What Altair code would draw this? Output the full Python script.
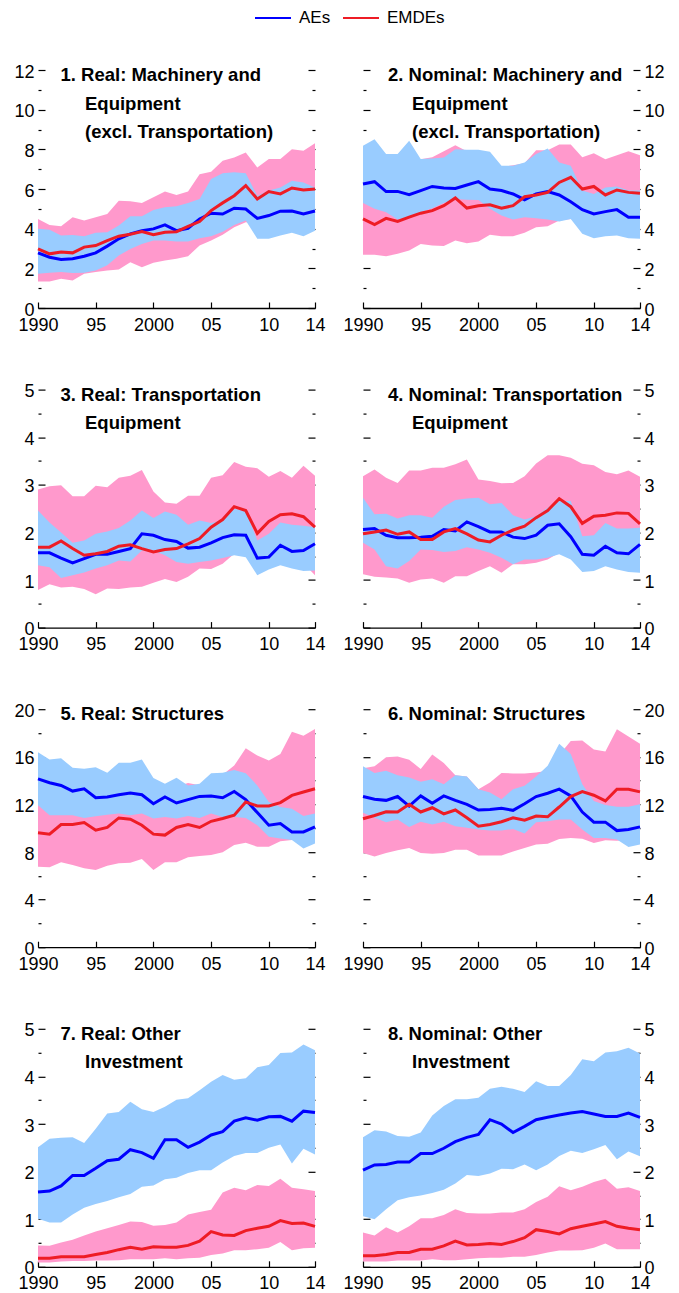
import altair as alt
import pandas as pd

YEARS = list(range(1990, 2015))
X_TICKS = [1990, 1995, 2000, 2005, 2010, 2014]
X_LABELS = ["1990", "95", "2000", "05", "10", "14"]
SERIES = ["AEs", "EMDEs"]

# Panel 1: Real, Machinery and Equipment
P1_AE = [2.78, 2.56, 2.45, 2.48, 2.61, 2.78, 3.12, 3.49, 3.74, 3.90, 3.99, 4.19, 3.90, 4.02, 4.49, 4.78, 4.74, 5.03, 4.99, 4.52, 4.66, 4.88, 4.89, 4.74, 4.89]
P1_AE_LO = [1.73, 1.78, 1.81, 1.76, 1.78, 1.89, 2.15, 2.65, 2.98, 3.23, 3.40, 3.40, 3.35, 3.35, 3.52, 3.62, 3.85, 4.19, 4.41, 3.49, 3.49, 3.65, 3.79, 3.62, 3.90]
P1_AE_HI = [3.99, 3.95, 3.65, 3.68, 3.62, 3.79, 3.82, 4.16, 4.63, 4.63, 4.94, 5.08, 5.13, 5.30, 5.50, 6.50, 6.80, 6.84, 6.80, 5.66, 5.92, 6.08, 6.42, 6.33, 6.08]
P1_EM = [2.98, 2.73, 2.82, 2.78, 3.07, 3.15, 3.40, 3.62, 3.72, 3.85, 3.69, 3.82, 3.85, 4.11, 4.36, 4.91, 5.30, 5.66, 6.17, 5.50, 5.87, 5.75, 6.05, 5.95, 6.00]
P1_EM_LO = [1.34, 1.34, 1.47, 1.39, 1.73, 1.81, 1.89, 1.94, 2.31, 2.06, 2.28, 2.40, 2.48, 2.61, 3.15, 3.40, 3.69, 4.07, 4.32, 4.30, 4.40, 4.50, 4.60, 4.50, 4.60]
P1_EM_HI = [4.49, 4.19, 4.12, 4.58, 4.41, 4.58, 4.74, 5.41, 5.38, 5.30, 5.58, 5.87, 5.70, 5.87, 6.75, 6.87, 7.42, 7.59, 7.84, 7.09, 7.51, 7.51, 8.01, 7.93, 8.31]

# Panel 2: Nominal, Machinery and Equipment
P2_AE = [6.25, 6.37, 5.87, 5.88, 5.71, 5.92, 6.13, 6.05, 6.03, 6.20, 6.37, 6.00, 5.92, 5.75, 5.46, 5.75, 5.87, 5.70, 5.36, 4.96, 4.74, 4.86, 4.96, 4.58, 4.58]
P2_AE_LO = [5.30, 5.00, 4.83, 4.46, 4.58, 4.83, 5.03, 5.30, 5.50, 5.46, 5.45, 5.00, 4.66, 4.46, 4.58, 4.52, 4.46, 4.36, 4.49, 3.74, 3.52, 3.62, 3.65, 3.52, 3.49]
P2_AE_HI = [8.18, 8.51, 7.76, 7.76, 8.43, 7.51, 7.54, 7.59, 8.01, 7.98, 7.98, 7.88, 7.17, 7.17, 7.34, 7.76, 8.04, 7.34, 7.17, 5.92, 5.75, 6.08, 6.13, 5.92, 5.92]
P2_EM = [4.49, 4.21, 4.52, 4.37, 4.58, 4.78, 4.91, 5.16, 5.55, 5.04, 5.16, 5.20, 5.03, 5.16, 5.61, 5.70, 5.83, 6.33, 6.59, 6.00, 6.13, 5.70, 5.95, 5.83, 5.78]
P2_EM_LO = [2.68, 2.68, 2.61, 2.73, 2.90, 3.23, 3.15, 3.12, 3.40, 3.27, 3.35, 3.69, 3.62, 3.62, 3.79, 4.07, 4.12, 4.41, 4.49, 4.40, 4.30, 4.40, 4.50, 4.40, 4.40]
P2_EM_HI = [7.60, 7.40, 7.30, 7.40, 7.50, 7.50, 7.60, 7.90, 8.20, 7.90, 7.90, 7.80, 7.10, 7.20, 7.30, 7.95, 7.95, 8.25, 8.25, 7.60, 7.80, 7.50, 7.70, 7.90, 7.70]

# Panel 3: Real, Transportation Equipment
P3_AE = [1.57, 1.57, 1.46, 1.36, 1.45, 1.54, 1.54, 1.60, 1.66, 1.97, 1.94, 1.85, 1.81, 1.67, 1.69, 1.78, 1.89, 1.95, 1.94, 1.46, 1.48, 1.73, 1.60, 1.62, 1.76]
P3_AE_LO = [1.31, 1.27, 1.04, 1.10, 1.16, 1.24, 1.31, 1.41, 1.39, 1.62, 1.62, 1.52, 1.38, 1.34, 1.38, 1.41, 1.46, 1.52, 1.48, 1.10, 1.22, 1.31, 1.24, 1.19, 1.20]
P3_AE_HI = [2.46, 2.21, 2.00, 1.78, 1.83, 1.97, 2.02, 2.09, 2.25, 2.46, 2.30, 2.44, 2.37, 2.16, 2.25, 2.20, 2.25, 2.49, 2.46, 1.83, 1.97, 2.21, 2.16, 2.14, 2.11]
P3_EM = [1.69, 1.69, 1.82, 1.66, 1.52, 1.55, 1.60, 1.71, 1.74, 1.66, 1.59, 1.64, 1.66, 1.76, 1.87, 2.11, 2.27, 2.54, 2.46, 1.98, 2.23, 2.37, 2.39, 2.33, 2.11]
P3_EM_LO = [0.79, 0.91, 0.84, 0.86, 0.81, 0.70, 0.82, 0.81, 0.84, 0.86, 0.94, 1.02, 0.96, 1.07, 1.24, 1.23, 1.34, 1.55, 1.52, 1.50, 1.50, 1.50, 1.45, 1.35, 1.10]
P3_EM_HI = [2.90, 2.97, 2.99, 2.76, 2.76, 2.98, 2.95, 3.15, 3.19, 3.31, 2.86, 2.63, 2.60, 2.77, 2.77, 3.15, 3.20, 3.48, 3.38, 3.35, 3.17, 3.29, 3.15, 3.40, 3.19]

# Panel 4: Nominal, Transportation Equipment
P4_AE = [2.06, 2.08, 1.94, 1.89, 1.89, 1.90, 1.92, 2.06, 2.03, 2.22, 2.12, 2.01, 2.01, 1.90, 1.87, 1.94, 2.15, 2.18, 1.91, 1.54, 1.52, 1.71, 1.57, 1.55, 1.75]
P4_AE_LO = [1.78, 1.64, 1.29, 1.24, 1.40, 1.64, 1.63, 1.59, 1.61, 1.69, 1.64, 1.57, 1.47, 1.33, 1.43, 1.43, 1.47, 1.54, 1.43, 1.17, 1.19, 1.29, 1.22, 1.17, 1.15]
P4_AE_HI = [2.73, 2.38, 2.39, 2.29, 2.36, 2.36, 2.31, 2.54, 2.68, 2.71, 2.73, 2.59, 2.62, 2.36, 2.27, 2.34, 2.52, 2.66, 2.66, 1.92, 1.94, 2.20, 2.08, 2.08, 2.10]
P4_EM = [1.97, 2.01, 2.05, 1.96, 2.01, 1.85, 1.85, 2.01, 2.08, 1.97, 1.84, 1.80, 1.94, 2.05, 2.13, 2.31, 2.46, 2.71, 2.54, 2.19, 2.34, 2.36, 2.41, 2.40, 2.18]
P4_EM_LO = [1.12, 1.07, 1.05, 1.03, 0.94, 1.01, 1.03, 0.94, 1.08, 1.08, 1.19, 1.29, 1.15, 1.33, 1.33, 1.36, 1.43, 1.57, 1.55, 1.60, 1.60, 1.65, 1.60, 1.55, 1.50]
P4_EM_HI = [3.18, 3.32, 3.15, 3.04, 3.30, 3.30, 3.36, 3.36, 3.43, 3.53, 3.11, 3.08, 3.03, 3.04, 3.18, 3.45, 3.62, 3.62, 3.57, 3.44, 3.41, 3.27, 3.22, 3.30, 3.17]

# Panel 5: Real, Structures
P5_AE = [14.15, 13.82, 13.59, 13.12, 13.31, 12.56, 12.62, 12.81, 12.95, 12.81, 12.06, 12.62, 12.12, 12.40, 12.67, 12.70, 12.56, 13.09, 12.40, 11.31, 10.25, 10.39, 9.69, 9.69, 10.11]
P5_AE_LO = [11.92, 11.09, 11.09, 11.09, 10.86, 11.00, 11.14, 11.23, 11.09, 11.23, 10.81, 10.95, 10.81, 11.03, 10.86, 11.23, 10.95, 10.95, 10.86, 10.25, 9.28, 9.14, 9.00, 8.30, 8.72]
P5_AE_HI = [16.38, 15.77, 15.88, 15.07, 14.99, 15.13, 14.65, 15.49, 15.49, 15.77, 14.21, 13.73, 14.23, 13.59, 13.73, 14.62, 14.65, 14.90, 14.62, 13.59, 12.20, 11.78, 11.64, 11.03, 11.23]
P5_EM = [9.61, 9.50, 10.31, 10.31, 10.47, 9.83, 10.06, 10.86, 10.75, 10.25, 9.50, 9.42, 10.06, 10.31, 10.06, 10.58, 10.81, 11.09, 12.20, 11.87, 11.87, 12.15, 12.76, 13.04, 13.31]
P5_EM_LO = [6.77, 6.71, 7.13, 6.91, 6.63, 6.49, 6.85, 7.05, 7.10, 7.41, 6.49, 7.13, 7.13, 7.55, 7.66, 7.74, 7.97, 8.58, 8.77, 8.44, 8.44, 8.91, 9.00, 9.10, 9.10]
P5_EM_HI = [13.50, 13.40, 13.60, 13.50, 13.40, 13.60, 13.80, 13.90, 13.60, 13.40, 13.20, 13.20, 13.50, 13.80, 13.60, 14.00, 14.50, 15.26, 16.71, 16.10, 15.68, 16.24, 18.11, 17.77, 18.33]

# Panel 6: Nominal, Structures
P6_AE = [12.66, 12.43, 12.34, 12.66, 11.86, 12.71, 12.09, 12.71, 12.34, 12.01, 11.53, 11.58, 11.67, 11.50, 12.06, 12.66, 12.94, 13.28, 12.71, 11.36, 10.51, 10.51, 9.80, 9.89, 10.11]
P6_AE_LO = [11.30, 10.88, 10.51, 10.73, 10.11, 10.54, 10.31, 10.54, 10.17, 10.03, 9.89, 9.80, 9.80, 9.94, 9.55, 10.51, 10.59, 10.73, 10.73, 9.89, 9.18, 9.18, 9.04, 8.42, 8.62]
P6_AE_HI = [15.20, 14.63, 14.83, 14.46, 14.27, 13.90, 14.12, 13.70, 14.46, 14.35, 13.28, 12.99, 12.43, 13.28, 13.56, 14.35, 15.25, 17.09, 16.24, 13.70, 12.29, 11.95, 11.81, 11.81, 12.01]
P6_EM = [10.79, 11.07, 11.38, 11.36, 12.01, 11.36, 11.72, 11.21, 11.53, 10.88, 10.17, 10.31, 10.54, 10.88, 10.68, 11.02, 10.96, 11.78, 12.66, 13.08, 12.77, 12.29, 13.28, 13.28, 13.05]
P6_EM_LO = [7.91, 7.63, 7.91, 8.14, 8.33, 7.91, 7.85, 7.91, 8.19, 8.19, 7.71, 7.71, 7.71, 8.05, 8.33, 8.62, 8.70, 9.10, 9.18, 9.12, 8.76, 8.98, 8.95, 9.00, 9.00]
P6_EM_HI = [15.03, 15.20, 15.96, 16.02, 15.76, 14.97, 16.19, 15.48, 14.46, 14.35, 13.28, 13.84, 14.63, 14.60, 14.60, 14.69, 14.83, 16.16, 17.32, 17.37, 16.61, 16.44, 18.31, 17.71, 17.09]

# Panel 7: Real, Other Investment
P7_AE = [1.57, 1.59, 1.70, 1.92, 1.92, 2.07, 2.23, 2.26, 2.46, 2.40, 2.28, 2.67, 2.67, 2.51, 2.62, 2.77, 2.84, 3.06, 3.13, 3.08, 3.15, 3.16, 3.06, 3.27, 3.24]
P7_AE_LO = [1.01, 0.93, 0.93, 1.10, 1.24, 1.32, 1.38, 1.46, 1.53, 1.68, 1.71, 1.84, 1.87, 1.97, 2.03, 2.03, 2.19, 2.33, 2.39, 2.39, 2.50, 2.57, 2.17, 2.48, 2.36]
P7_AE_HI = [2.51, 2.69, 2.71, 2.72, 2.60, 2.90, 3.22, 3.25, 3.47, 3.31, 3.25, 3.36, 3.51, 3.54, 3.71, 3.89, 4.03, 3.93, 3.96, 4.19, 4.24, 4.49, 4.50, 4.67, 4.55]
P7_EM = [0.18, 0.18, 0.21, 0.21, 0.21, 0.26, 0.30, 0.36, 0.41, 0.37, 0.42, 0.41, 0.41, 0.45, 0.54, 0.74, 0.67, 0.66, 0.76, 0.81, 0.85, 0.97, 0.91, 0.92, 0.85]
P7_EM_LO = [0.09, 0.09, 0.11, 0.12, 0.12, 0.13, 0.13, 0.14, 0.16, 0.16, 0.16, 0.18, 0.16, 0.18, 0.19, 0.25, 0.28, 0.35, 0.35, 0.37, 0.40, 0.52, 0.35, 0.39, 0.40]
P7_EM_HI = [0.45, 0.44, 0.51, 0.57, 0.66, 0.74, 0.81, 0.88, 0.95, 0.94, 0.86, 0.88, 0.93, 1.10, 1.15, 1.20, 1.56, 1.66, 1.61, 1.72, 1.70, 1.85, 1.66, 1.63, 1.59]

# Panel 8: Nominal, Other Investment
P8_AE = [2.03, 2.14, 2.15, 2.20, 2.20, 2.38, 2.38, 2.49, 2.63, 2.72, 2.78, 3.09, 3.00, 2.82, 2.95, 3.09, 3.14, 3.19, 3.23, 3.26, 3.21, 3.16, 3.16, 3.23, 3.14]
P8_AE_LO = [1.06, 1.00, 1.21, 1.40, 1.46, 1.50, 1.55, 1.62, 1.75, 1.93, 1.91, 1.96, 2.06, 2.05, 2.15, 2.03, 2.15, 2.33, 2.44, 2.39, 2.47, 2.56, 2.26, 2.42, 2.32]
P8_AE_HI = [2.72, 2.87, 2.84, 2.75, 2.73, 2.82, 3.18, 3.38, 3.52, 3.52, 3.55, 3.74, 3.78, 3.74, 3.67, 3.90, 3.80, 3.80, 4.03, 4.36, 4.32, 4.50, 4.53, 4.60, 4.48]
P8_EM = [0.23, 0.23, 0.26, 0.30, 0.30, 0.37, 0.37, 0.44, 0.54, 0.46, 0.47, 0.49, 0.47, 0.53, 0.61, 0.78, 0.74, 0.69, 0.80, 0.85, 0.90, 0.95, 0.85, 0.81, 0.78]
P8_EM_LO = [0.11, 0.11, 0.11, 0.13, 0.13, 0.13, 0.16, 0.14, 0.14, 0.16, 0.18, 0.19, 0.19, 0.21, 0.21, 0.25, 0.30, 0.34, 0.34, 0.35, 0.40, 0.49, 0.37, 0.37, 0.37]
P8_EM_HI = [0.72, 0.66, 0.83, 0.72, 0.85, 1.02, 1.02, 1.09, 1.21, 1.13, 1.12, 1.12, 1.14, 1.14, 1.21, 1.36, 1.47, 1.69, 1.61, 1.68, 1.78, 1.85, 1.64, 1.67, 1.59]

TITLES = {
    1: ["1. Real: Machinery and", "Equipment", "(excl. Transportation)"],
    2: ["2. Nominal: Machinery and", "Equipment", "(excl. Transportation)"],
    3: ["3. Real: Transportation", "Equipment"],
    4: ["4. Nominal: Transportation", "Equipment"],
    5: ["5. Real: Structures"],
    6: ["6. Nominal: Structures"],
    7: ["7. Real: Other", "Investment"],
    8: ["8. Nominal: Other", "Investment"],
}

# y-axis setup per row
Y_MAX = [12, 5, 20, 5]
Y_MAJOR = [[0, 2, 4, 6, 8, 10, 12], [0, 1, 2, 3, 4, 5], [0, 4, 8, 12, 16, 20], [0, 1, 2, 3, 4, 5]]
Y_MINOR = [[1, 3, 5, 7, 9, 11], [0.5, 1.5, 2.5, 3.5, 4.5], [2, 6, 10, 14, 18], [0.5, 1.5, 2.5, 3.5, 4.5]]

PANELS = {
    1: (P1_AE, P1_AE_LO, P1_AE_HI, P1_EM, P1_EM_LO, P1_EM_HI),
    2: (P2_AE, P2_AE_LO, P2_AE_HI, P2_EM, P2_EM_LO, P2_EM_HI),
    3: (P3_AE, P3_AE_LO, P3_AE_HI, P3_EM, P3_EM_LO, P3_EM_HI),
    4: (P4_AE, P4_AE_LO, P4_AE_HI, P4_EM, P4_EM_LO, P4_EM_HI),
    5: (P5_AE, P5_AE_LO, P5_AE_HI, P5_EM, P5_EM_LO, P5_EM_HI),
    6: (P6_AE, P6_AE_LO, P6_AE_HI, P6_EM, P6_EM_LO, P6_EM_HI),
    7: (P7_AE, P7_AE_LO, P7_AE_HI, P7_EM, P7_EM_LO, P7_EM_HI),
    8: (P8_AE, P8_AE_LO, P8_AE_HI, P8_EM, P8_EM_LO, P8_EM_HI),
}

BLUE = "#0000ff"
RED = "#ee1c25"
LBLUE = "#99ccff"
PINK = "#ff99cc"
LABFONT = "Liberation Sans"
BOLD = "Liberation Sans"
LABSIZE = 18

W = 277
H = 238

label_expr = " : ".join(
    f"datum.value == {v} ? '{l}'" for v, l in zip(X_TICKS, X_LABELS)
) + " : ''"

color_scale = alt.Scale(domain=SERIES, range=[BLUE, RED])
legend = alt.Legend(
    orient="none", legendX=216, legendY=-71, direction="horizontal", title=None,
    symbolType="stroke", symbolSize=1296, symbolStrokeWidth=2,
    labelFont=LABFONT, labelFontSize=17, labelColor="black",
    columnPadding=8, labelOffset=7, padding=0,
)


def yaxis(orient, values, size, labels):
    return alt.Axis(
        orient=orient, values=values, offset=-size, tickSize=size, tickWidth=1.2,
        tickColor="black", domain=False, grid=False, labels=labels, title=None,
        labelFont=LABFONT, labelFontSize=LABSIZE, labelColor="black", labelPadding=4,
        labelOverlap=False, labelOffset=2,
    )


def make_panel(k, col):
    ae, ae_lo, ae_hi, em, em_lo, em_hi = PANELS[k]
    r = (k - 1) // 2
    wide = pd.DataFrame({
        "year": YEARS, "ae": ae, "ae_lo": ae_lo, "ae_hi": ae_hi,
        "em": em, "em_lo": em_lo, "em_hi": em_hi,
    })
    xs = alt.Scale(domain=[1990, 2014], nice=False, zero=False)
    ys = alt.Scale(domain=[0, Y_MAX[r]], nice=False)
    left_labels = col == 0
    x_main = alt.Axis(
        orient="bottom", values=X_TICKS, labelExpr=label_expr, ticks=False,
        domain=True, domainColor="black", domainWidth=1.3, grid=False, title=None,
        labelFont=LABFONT, labelFontSize=LABSIZE, labelColor="black", labelPadding=8,
        labelFlush=False, labelOverlap=False,
    )
    x_ticks = alt.Axis(
        orient="bottom", values=X_TICKS, offset=-6, tickSize=6, tickWidth=1.2,
        tickColor="black", domain=False, labels=False, grid=False, title=None,
    )
    pink = alt.Chart(wide).mark_area(color=PINK, opacity=1).encode(
        x=alt.X("year:Q", scale=xs, axis=x_main),
        y=alt.Y("em_lo:Q", scale=ys, axis=yaxis("left", Y_MAJOR[r], 7, left_labels)),
        y2="em_hi:Q",
    )
    band = alt.Chart(wide).mark_area(color=LBLUE, opacity=1).encode(
        x=alt.X("year:Q", scale=xs, axis=x_ticks),
        y=alt.Y("ae_lo:Q", scale=ys, axis=yaxis("right", Y_MAJOR[r], 7, not left_labels)),
        y2="ae_hi:Q",
    )
    ae_line = alt.Chart(wide).transform_calculate(series="'AEs'").mark_line(strokeWidth=3).encode(
        x=alt.X("year:Q", scale=xs, axis=None),
        y=alt.Y("ae:Q", scale=ys, axis=yaxis("left", Y_MINOR[r], 3, False)),
        color=alt.Color("series:N", scale=color_scale, legend=legend),
    )
    em_line = alt.Chart(wide).transform_calculate(series="'EMDEs'").mark_line(strokeWidth=3).encode(
        x=alt.X("year:Q", scale=xs, axis=None),
        y=alt.Y("em:Q", scale=ys, axis=yaxis("right", Y_MINOR[r], 3, False)),
        color=alt.Color("series:N", scale=color_scale, legend=legend),
    )
    x0 = 22.5 if col == 0 else 25
    x1 = 47 if col == 0 else 49
    texts = []
    for i, line in enumerate(TITLES[k]):
        texts.append(
            alt.Chart(alt.Data(values=[{}])).mark_text(
                text=line, x=x0 if i == 0 else x1, y=11 + 28.5 * i,
                align="left", baseline="alphabetic", font=BOLD,
                fontSize=18.5, fontWeight="bold", color="black",
            )
        )
    return alt.layer(pink, band, ae_line, em_line, *texts).resolve_scale(
        x="independent", y="independent"
    ).properties(width=W, height=H)


panels = []
for k in range(1, 9):
    panels.append(make_panel(k, (k - 1) % 2))

chart = alt.concat(
    *panels, columns=2, spacing={"row": 81.6, "column": 48}, bounds="flush"
).properties(
    padding={"left": 5, "top": -9, "right": 5, "bottom": 5},
    background="white",
).configure_view(stroke=None)

chart.save("out.html", embed_options={"renderer": "svg", "actions": False})
